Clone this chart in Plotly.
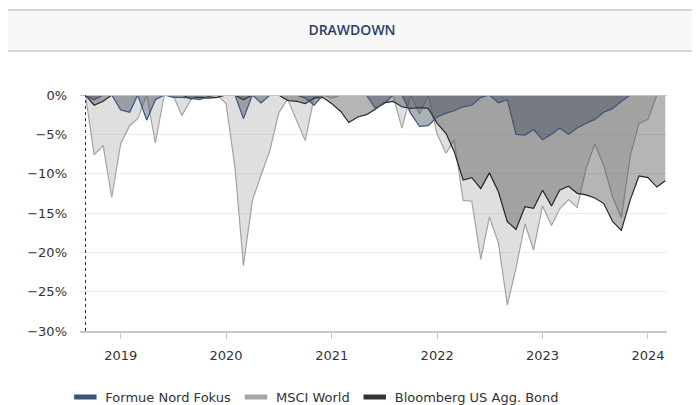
import pandas as pd
import plotly.graph_objects as go

# månedlige datoer (start sep 2018)
dates = pd.date_range('2018-09-01', periods=67, freq='MS')

formue = [0, -0.6, 0, 0, -1.9, -2.2, 0, -3.2, -0.6, 0, -0.3, -0.3, -0.4, -0.6, -0.2, 0,
          0, 0, -3.0, 0, -1.0, 0, 0, 0, 0, -0.4, -1.3, 0,
          0, 0, 0, 0, 0, -1.7, -1.1, 0, 0, -2.3, -4.0, -3.9,
          -2.8, -2.3, -2.0, -1.5, -1.3, -0.3, 0, -1.0, -0.6, -5.0, -5.1, -4.4,
          -5.7, -5.0, -4.2, -5.0, -4.2, -3.6, -3.1, -2.2, -1.7, -0.8, 0, 0,
          0, 0, 0]

msci = [0, -7.6, -6.4, -13.0, -6.2, -3.9, -3.0, 0, -6.1, 0, 0, -2.6, -0.6, 0, 0, 0,
        -1.1, -9.3, -21.7, -13.4, -10.2, -7.0, -2.3, -0.5, -3.2, -5.8, -0.3, 0,
        -0.4, 0, 0, 0, 0, 0, 0, 0, -4.2, 0, -2.4, 0,
        -5.0, -7.4, -5.7, -13.4, -13.5, -20.9, -15.5, -18.8, -26.7, -22.0, -16.4, -19.7,
        -14.1, -16.6, -14.5, -13.3, -14.3, -9.3, -6.2, -9.0, -13.0, -15.6, -7.7, -3.6,
        -3.1, 0, 0]

bond = [0, -1.3, -0.8, 0, 0, 0, 0, 0, 0, 0, 0, 0, -0.5, -0.3, -0.4, -0.3,
        0, 0, -0.6, 0, 0, 0, 0, -0.7, -0.8, -1.1, -0.4, -0.3,
        -1.1, -2.1, -3.5, -2.8, -2.5, -1.8, -1.0, -0.8, -1.5, -1.7, -1.6, -1.7,
        -3.6, -4.9, -7.2, -10.8, -10.5, -11.9, -9.9, -12.3, -16.1, -17.1, -14.2, -14.4,
        -12.1, -14.1, -12.1, -11.6, -12.5, -12.7, -13.1, -13.8, -16.1, -17.2, -13.3, -10.3,
        -10.5, -11.7, -10.9]

series = [
    ('MSCI World', msci, '#a3a3a3', 'rgba(150,150,150,0.3)', '#a6a6a6'),
    ('Bloomberg US Agg. Bond', bond, '#262626', 'rgba(70,70,70,0.4)', '#333333'),
    ('Formue Nord Fokus', formue, '#3b5479', 'rgba(58,66,84,0.42)', '#3b5479'),
]

fig = go.Figure()

for name, vals, line_col, fill_col, _ in series:
    fig.add_trace(go.Scatter(
        x=dates, y=vals, mode='lines', fill='tozeroy',
        line=dict(color=line_col, width=1.2),
        fillcolor=fill_col, showlegend=False, hoverinfo='skip'
    ))

# legend-symboler
for name in ['Formue Nord Fokus', 'MSCI World', 'Bloomberg US Agg. Bond']:
    col = [s[4] for s in series if s[0] == name][0]
    fig.add_trace(go.Scatter(
        x=[None], y=[None], mode='markers', name=name,
        marker=dict(symbol='line-ew', size=16, line=dict(color=col, width=6))
    ))

# titelbånd
fig.add_shape(type='rect', xref='paper', yref='paper', x0=-0.1227, x1=1.0426,
              y0=1.186, y1=1.360, fillcolor='#f8f8f8', line=dict(width=0), layer='below')
for yy in [1.186, 1.360]:
    fig.add_shape(type='line', xref='paper', yref='paper', x0=-0.1227, x1=1.0426,
                  y0=yy, y1=yy, line=dict(color='#d6d6d6', width=2))

# 0%-linje og startlinje
fig.add_shape(type='line', xref='paper', yref='y', x0=0, x1=1, y0=0, y1=0,
              line=dict(color='#c4c4c4', width=2), layer='above')
fig.add_shape(type='line', xref='x', yref='y', x0=dates[0], x1=dates[0], y0=-30, y1=0,
              line=dict(color='#333333', width=1, dash='dot'), layer='above')

fig.update_layout(
    width=700, height=405,
    margin=dict(l=72, r=41, t=87, b=82, autoexpand=False),
    paper_bgcolor='white', plot_bgcolor='white',
    title=dict(text='DRAWDOWN', x=344 / 700, xref='container', xanchor='center',
               y=1 - 22 / 405, yref='container', yanchor='middle',
               font=dict(family='Open Sans', size=14, color='#2b3f66', weight=600)),
    font=dict(family='DejaVu Sans', size=13, color='#333333'),
    showlegend=True,
    legend=dict(orientation='h', x=-0.025, xanchor='left', y=-0.28, yanchor='middle',
                font=dict(family='DejaVu Sans', size=13, color='#333333'),
                itemwidth=30, bgcolor='rgba(0,0,0,0)'),
    xaxis=dict(range=['2018-08-13', '2024-03-07'], tick0='2019-01-01', dtick='M12',
               tickformat='%Y', showgrid=False, showline=True, linecolor='#c8c8c8',
               linewidth=2, ticks='outside', ticklen=6, tickcolor='#c8c8c8',
               zeroline=False, automargin=False, ticklabelstandoff=5),
    yaxis=dict(range=[-30, 0], dtick=5, ticksuffix='%', showgrid=True,
               gridcolor='#ececec', gridwidth=1, zeroline=False, showline=False,
               ticklabelstandoff=12, automargin=False),
)

fig.write_html('out.html')
